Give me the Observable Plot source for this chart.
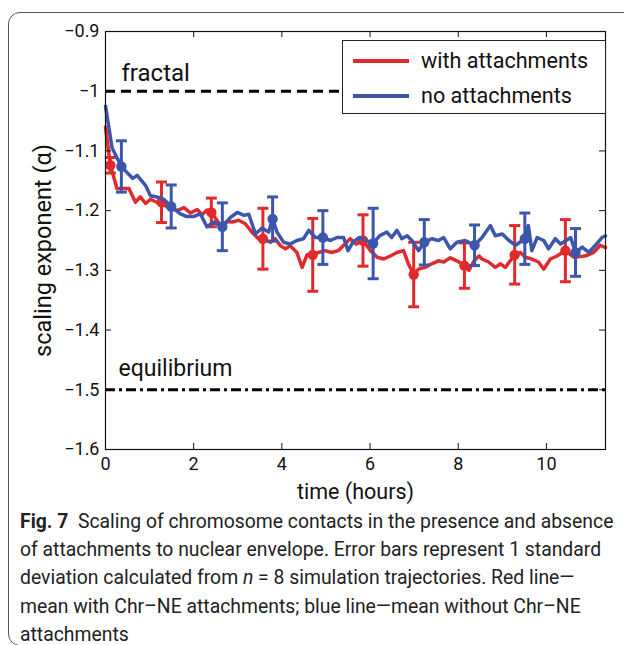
<!DOCTYPE html>
<html>
<head>
<meta charset="utf-8">
<script src="https://cdn.jsdelivr.net/npm/d3@7"></script>
<script src="https://cdn.jsdelivr.net/npm/@observablehq/plot@0.6"></script>
<style>
  body { margin: 0; background: #fff; font-family: Roboto, "Noto Sans", sans-serif; color: #111; }
  #fig { position: relative; width: 624px; height: 645px; overflow: hidden; }
  #border { position: absolute; left: 8px; top: 12px; width: 660px; height: 632px;
            border: 1.3px solid #555; border-radius: 12px; }
  #chart { position: absolute; left: 0; top: 0; }
  #legend { position: absolute; left: 342px; top: 40px; width: 262px; height: 72px;
            border: 1.2px solid #222; background: #fff; }
  .key { position: absolute; left: 10px; width: 56px; height: 4px; }
  .keytext { position: absolute; left: 78px; font-size: 21.6px; line-height: 24px; white-space: nowrap; }
  #caption { position: absolute; left: 20px; top: 511px; font-size: 20px; color: #222;
             white-space: nowrap; transform: scaleX(0.968); transform-origin: 0 0; }
  #caption div { height: 20px; line-height: 20px; margin-bottom: 8.2px; }
  #caption b { font-weight: 700; }
</style>
</head>
<body>
<div id="fig">
  <div id="border"></div>
  <div id="chart"></div>
  <div id="legend"></div>
  <div id="caption">
    <div><b>Fig. 7</b>&nbsp; Scaling of chromosome contacts in the presence and absence</div>
    <div>of attachments to nuclear envelope. Error bars represent 1 standard</div>
    <div>deviation calculated from <i>n</i> = 8 simulation trajectories. Red line—</div>
    <div>mean with Chr–NE attachments; blue line—mean without Chr–NE</div>
    <div>attachments</div>
  </div>
</div>
<script>
// Series names and colours
const seriesNames = ["with attachments", "no attachments"];
const seriesColors = ["#e12a2b", "#3c56ae"];

// Mean scaling exponent over time, with Chr–NE attachments
const redTime = [0, 0.11, 0.26, 0.53, 0.68, 0.79, 0.91, 1.02, 1.16, 1.27, 1.40, 1.62, 1.78, 1.93,
  2.08, 2.19, 2.30, 2.40, 2.61, 2.76, 2.87, 3.02, 3.17, 3.32, 3.47, 3.57, 3.74, 3.85, 3.97,
  4.08, 4.19, 4.34, 4.46, 4.57, 4.70, 4.83, 4.98, 5.13, 5.28, 5.43, 5.55, 5.68, 5.84, 6.01,
  6.16, 6.31, 6.46, 6.61, 6.76, 6.87, 6.99, 7.10, 7.25, 7.40, 7.55, 7.67, 7.82, 7.97, 8.14,
  8.24, 8.36, 8.47, 8.54, 8.69, 8.84, 8.96, 9.07, 9.18, 9.28, 9.41, 9.52, 9.67, 9.82, 9.94,
  10.09, 10.24, 10.43, 10.62, 10.77, 10.92, 11.07, 11.22, 11.34];
const redValue = [-1.060, -1.124, -1.163, -1.163, -1.186, -1.177, -1.188, -1.181, -1.186, -1.186,
  -1.194, -1.200, -1.195, -1.204, -1.198, -1.207, -1.199, -1.203, -1.225, -1.218, -1.219,
  -1.216, -1.222, -1.236, -1.247, -1.247, -1.253, -1.247, -1.259, -1.264, -1.259, -1.270,
  -1.295, -1.274, -1.274, -1.270, -1.267, -1.270, -1.267, -1.256, -1.247, -1.256, -1.250,
  -1.267, -1.278, -1.281, -1.276, -1.270, -1.267, -1.289, -1.307, -1.298, -1.295, -1.289,
  -1.284, -1.286, -1.279, -1.284, -1.292, -1.300, -1.284, -1.276, -1.281, -1.286, -1.295,
  -1.289, -1.295, -1.284, -1.274, -1.270, -1.278, -1.281, -1.286, -1.298, -1.281, -1.276,
  -1.267, -1.278, -1.277, -1.275, -1.270, -1.258, -1.262];

// Mean scaling exponent over time, without attachments
const blueTime = [0, 0.15, 0.36, 0.51, 0.62, 0.72, 0.91, 1.02, 1.17, 1.32, 1.49, 1.69, 1.84, 2.00,
  2.15, 2.30, 2.46, 2.65, 2.84, 2.99, 3.14, 3.25, 3.40, 3.55, 3.70, 3.79, 3.89, 4.04, 4.19,
  4.34, 4.49, 4.61, 4.76, 4.93, 5.10, 5.25, 5.40, 5.50, 5.61, 5.76, 5.92, 6.07, 6.22, 6.38,
  6.49, 6.61, 6.72, 6.84, 6.95, 7.10, 7.23, 7.40, 7.55, 7.67, 7.82, 7.97, 8.16, 8.37, 8.54,
  8.73, 8.84, 9.00, 9.15, 9.30, 9.51, 9.59, 9.67, 9.79, 9.94, 10.05, 10.20, 10.32, 10.55,
  10.66, 10.81, 10.96, 11.11, 11.26, 11.34];
const blueValue = [-1.025, -1.095, -1.126, -1.138, -1.146, -1.141, -1.158, -1.175, -1.177, -1.181,
  -1.193, -1.205, -1.210, -1.210, -1.205, -1.227, -1.219, -1.227, -1.211, -1.203, -1.208,
  -1.206, -1.239, -1.229, -1.236, -1.214, -1.236, -1.253, -1.256, -1.250, -1.247, -1.233,
  -1.245, -1.245, -1.250, -1.245, -1.245, -1.267, -1.253, -1.245, -1.250, -1.255, -1.242,
  -1.236, -1.245, -1.233, -1.247, -1.242, -1.250, -1.267, -1.253, -1.247, -1.250, -1.245,
  -1.264, -1.253, -1.250, -1.258, -1.245, -1.225, -1.242, -1.239, -1.250, -1.258, -1.247,
  -1.225, -1.267, -1.245, -1.250, -1.264, -1.247, -1.256, -1.245, -1.270, -1.261, -1.270,
  -1.258, -1.245, -1.242];

// Error bars: mean ± 1 standard deviation (n = 8 trajectories)
const redBarTime = [0.11, 1.27, 2.40, 3.57, 4.70, 5.84, 6.99, 8.14, 9.28, 10.43];
const redBarMean = [-1.124, -1.186, -1.203, -1.247, -1.274, -1.250, -1.307, -1.292, -1.274, -1.267];
const redBarSd   = [0.013, 0.034, 0.024, 0.051, 0.061, 0.043, 0.054, 0.038, 0.049, 0.052];
const blueBarTime = [0.36, 1.49, 2.65, 3.79, 4.93, 6.07, 7.23, 8.37, 9.51, 10.66];
const blueBarMean = [-1.126, -1.193, -1.227, -1.214, -1.245, -1.255, -1.253, -1.258, -1.247, -1.270];
const blueBarSd   = [0.043, 0.036, 0.040, 0.037, 0.045, 0.059, 0.038, 0.034, 0.043, 0.040];

// Reference levels
const refNames = ["fractal", "equilibrium"];
const refLevels = [-1, -1.5];

// Axes
const xTicks = [0, 2, 4, 6, 8, 10];
const yTicks = [-0.9, -1, -1.1, -1.2, -1.3, -1.4, -1.5, -1.6];
const xDomain = [0, 11.34];
const yDomain = [-1.6, -0.9];
const xLabel = "time (hours)";
const yLabel = "scaling exponent (α)";

const minus = d => String(d).replace("-", "\u2212");

// horizontal cap for error bars
const hline = {
  draw(context, size) {
    const w = Math.sqrt(size / Math.PI);
    context.moveTo(-w, 0);
    context.lineTo(w, 0);
  }
};

function series(time, value) {
  return time.map((t, i) => ({t, v: value[i]}));
}
function bars(time, mean, sd) {
  return time.map((t, i) => ({t, mean: mean[i], lo: mean[i] - sd[i], hi: mean[i] + sd[i]}));
}
function errorMarks(rows, color) {
  return [
    Plot.ruleX(rows, {x: "t", y1: "lo", y2: "hi", stroke: color, strokeWidth: 3}),
    Plot.dot(rows, {x: "t", y: "lo", symbol: hline, r: 5.5, fill: "none", stroke: color, strokeWidth: 3}),
    Plot.dot(rows, {x: "t", y: "hi", symbol: hline, r: 5.5, fill: "none", stroke: color, strokeWidth: 3}),
    Plot.dot(rows, {x: "t", y: "mean", r: 5.2, fill: color})
  ];
}

const width = 624, height = 510;
const mL = 105, mR = 19, mT = 31, mB = 61;
const innerW = width - mL - mR, innerH = height - mT - mB;
const tickLen = 6;

const chart = Plot.plot({
  width, height,
  marginLeft: mL, marginRight: mR, marginTop: mT, marginBottom: mB,
  x: {domain: xDomain},
  y: {domain: yDomain},
  style: {fontFamily: "Roboto, 'Noto Sans', sans-serif", background: "transparent", color: "#111"},
  marks: [
    // reference lines
    Plot.ruleY([refLevels[0]], {y: d => d, stroke: "#000", strokeWidth: 3, strokeDasharray: "10,6"}),
    Plot.ruleY([refLevels[1]], {y: d => d, stroke: "#000", strokeWidth: 3, strokeDasharray: "10,4,3,4"}),
    Plot.text([0], {y: () => refLevels[0], text: () => refNames[0], frameAnchor: "left",
      textAnchor: "start", lineAnchor: "middle", dx: 16, dy: -18, fontSize: 24, fill: "#111"}),
    Plot.text([1], {y: () => refLevels[1], text: () => refNames[1], frameAnchor: "left",
      textAnchor: "start", lineAnchor: "middle", dx: 13, dy: -21, fontSize: 23, fill: "#111"}),
    // data
    Plot.line(series(redTime, redValue), {x: "t", y: "v", stroke: seriesColors[0], strokeWidth: 3.5}),
    ...errorMarks(bars(redBarTime, redBarMean, redBarSd), seriesColors[0]),
    Plot.line(series(blueTime, blueValue), {x: "t", y: "v", stroke: seriesColors[1], strokeWidth: 3.5}),
    ...errorMarks(bars(blueBarTime, blueBarMean, blueBarSd), seriesColors[1]),
    // inward ticks on all four sides
    Plot.tickX(xTicks, {x: d => d, insetTop: innerH - tickLen, stroke: "#111"}),
    Plot.tickX(xTicks, {x: d => d, insetBottom: innerH - tickLen, stroke: "#111"}),
    Plot.tickY(yTicks, {y: d => d, insetRight: innerW - tickLen, stroke: "#111"}),
    Plot.tickY(yTicks, {y: d => d, insetLeft: innerW - tickLen, stroke: "#111"}),
    Plot.frame({stroke: "#111", strokeWidth: 1.2}),
    // tick labels and titles
    Plot.axisX(xTicks, {tickSize: 0, tickPadding: 8, fontSize: 18, label: null, tickFormat: minus}),
    Plot.axisY(yTicks, {tickSize: 0, tickPadding: 6, fontSize: 18, label: null, tickFormat: minus}),
    Plot.text([xLabel], {text: d => d, frameAnchor: "bottom", lineAnchor: "middle", dy: 43, fontSize: 21.5, fill: "#111"}),
    Plot.text([yLabel], {text: d => d, frameAnchor: "left", textAnchor: "middle", lineAnchor: "middle",
      rotate: -90, dx: -62, dy: 10, fontSize: 23.5, fill: "#111"})
  ]
});
document.getElementById("chart").append(chart);

// legend
const legend = document.getElementById("legend");
seriesNames.forEach((name, i) => {
  const key = document.createElement("div");
  key.className = "key";
  key.style.top = (i === 0 ? 18 : 53) + "px";
  key.style.background = seriesColors[i];
  legend.append(key);
  const txt = document.createElement("div");
  txt.className = "keytext";
  txt.style.top = (i === 0 ? 8 : 43) + "px";
  txt.textContent = name;
  legend.append(txt);
});
</script>
</body>
</html>
